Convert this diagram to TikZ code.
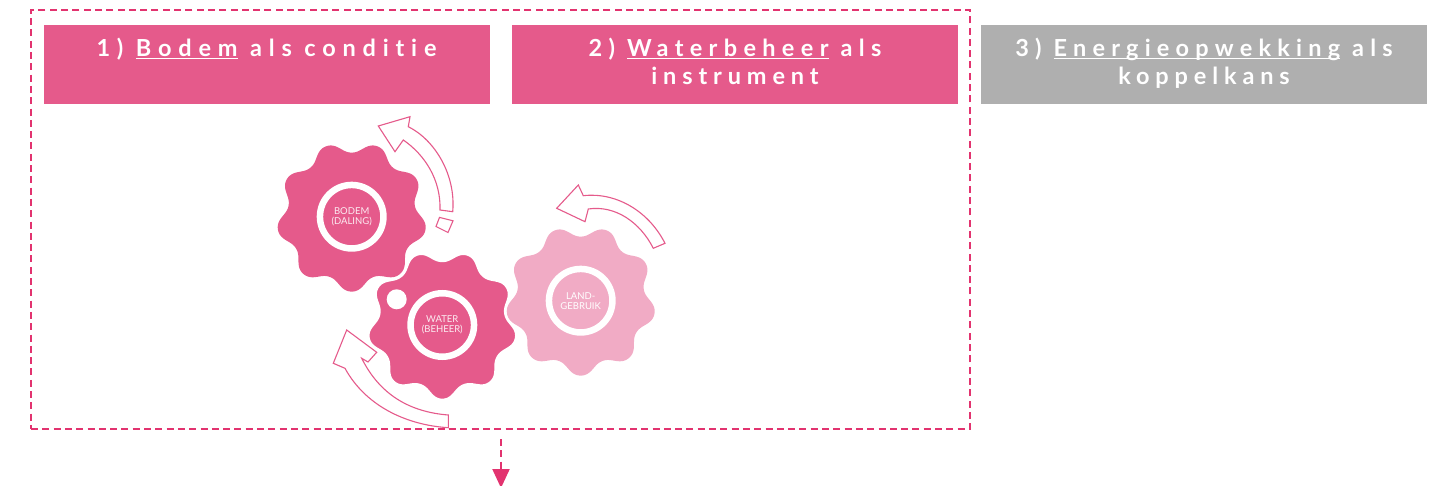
\documentclass[tikz,border=0pt]{standalone}
\usepackage{fontspec}
\setmainfont[Ligatures=NoCommon]{Lato}
\usetikzlibrary{arrows.meta, positioning}

\definecolor{gearpink}{HTML}{E55A8B}
\definecolor{gearpale}{HTML}{F1ABC5}
\definecolor{framepink}{HTML}{E2336F}
\definecolor{headgray}{HTML}{AFAFAF}

% underline that runs through the descenders
\newsavebox{\ulbox}
\newcommand{\ulword}[1]{\sbox{\ulbox}{#1}\rlap{\rule[-2.2pt]{\wd\ulbox}{1.1pt}}#1}
% wavy wheel with nine lobes, one of them pointing down
\newcommand{\gearradius}{(69.5+5.6*cos(9*(\t-90))-0.2*cos(27*(\t-90)))}
\newcommand{\gearshape}[2]{plot[domain=0:360, samples=361, smooth, variable=\t]
    ({#1+\gearradius*cos(\t)}, {#2+\gearradius*sin(\t)}) -- cycle}

\tikzset{
    headbox/.style={anchor=north west, minimum width=446pt, minimum height=79pt, inner sep=0pt, outer sep=0pt, fill=gearpink},
    headtext/.style={text=white, align=center, inner sep=0pt, font=\fontsize{23.5}{28}\selectfont\bfseries},
    gearhub/.style={circle, draw=white, line width=6.5pt, minimum size=63.5pt, inner sep=0pt, align=center,
        text=white!88!gearpink, font=\fontsize{9.5}{10}\selectfont},
    turnarrow/.style={draw=gearpink, fill=white, line width=1.1pt, line join=miter},
}

\begin{document}
\begin{tikzpicture}[x=1pt, y=-1pt]
    \useasboundingbox (0,0) rectangle (1433,486);

    % Dashed frame round the first two columns
    \node[draw=framepink, line width=2.2pt, dash pattern=on 7pt off 4.3pt, minimum width=939pt, minimum height=419pt,
        inner sep=0pt, outer sep=0pt, anchor=north west] (frame) at (31,10) {};

    % Column heads
    \node[headbox] (headone) at (43.5,25) {};
    \node[headbox] (headtwo) at (512,25) {};
    \node[headbox, fill=headgray] (headthree) at (981,25) {};
    \node[headtext, below=13pt of headone.north] (textone)
        {\addfontfeatures{LetterSpace=29}1) \ulword{Bodem} als conditie};
    \node[headtext, below=13pt of headtwo.north] (texttwo)
        {\addfontfeatures{LetterSpace=27}2) \ulword{Waterbeheer} als\\\addfontfeatures{LetterSpace=25}instrument};
    \node[headtext, below=13pt of headthree.north] (textthree)
        {\addfontfeatures{LetterSpace=26.5}3) \ulword{Energieopwekking} als\\\addfontfeatures{LetterSpace=25}koppelkans};

    % Wheels
    \fill[gearpink] \gearshape{351.7}{216.7};
    \fill[gearpale] \gearshape{580.7}{300.7};
    \fill[gearpink, draw=white, line width=2.5pt] \gearshape{442.3}{325};
    \fill[white] (396.7,299.3) circle (10);
    \node[gearhub] (bodem) at (351.7,216.7) {BODEM\\(DALING)};
    \node[gearhub] (water) at (442.3,325) {WATER\\(BEHEER)};
    \node[gearhub, text=white] (land) at (580.7,300.7) {LAND-\\GEBRUIK};

    % Turning arrows
    \draw[turnarrow] (452.7,211.7) .. controls (456,175) and (435,140) .. (408.3,126.7)
        -- (410,116.7) -- (378.3,126) -- (395,151.7) -- (403.3,140)
        .. controls (425,155) and (441,180) .. (440,210) -- cycle;
    \draw[turnarrow] (439.5,217.4) -- (453,220.8) -- (448,232.5) -- (436,226.5) -- cycle;
    \draw[turnarrow] (665,243.3) .. controls (648,210) and (615,192) .. (583.3,195.7)
        -- (578.3,185) -- (556.7,208.3) -- (585,221.7) -- (588.3,209)
        .. controls (615,205) and (640,222) .. (653.3,248.3) -- cycle;
    \draw[turnarrow] (448.3,427.7) .. controls (405,425) and (365,405) .. (345,368.3)
        -- (333.3,363.3) -- (346.7,330) -- (376.7,352.3) -- (368,362) -- (361.7,358.3)
        .. controls (380,395) and (410,412) .. (448.3,415) -- cycle;

    % Dashed drop out of the frame
    \coordinate (droptop) at (501,439);
    \coordinate (dropend) at (501,488);
    \draw[-{Triangle[length=19pt, width=17pt]}, framepink, line width=2.2pt, dash pattern=on 7pt off 4.3pt]
        (droptop) -- (dropend);
\end{tikzpicture}
\end{document}
